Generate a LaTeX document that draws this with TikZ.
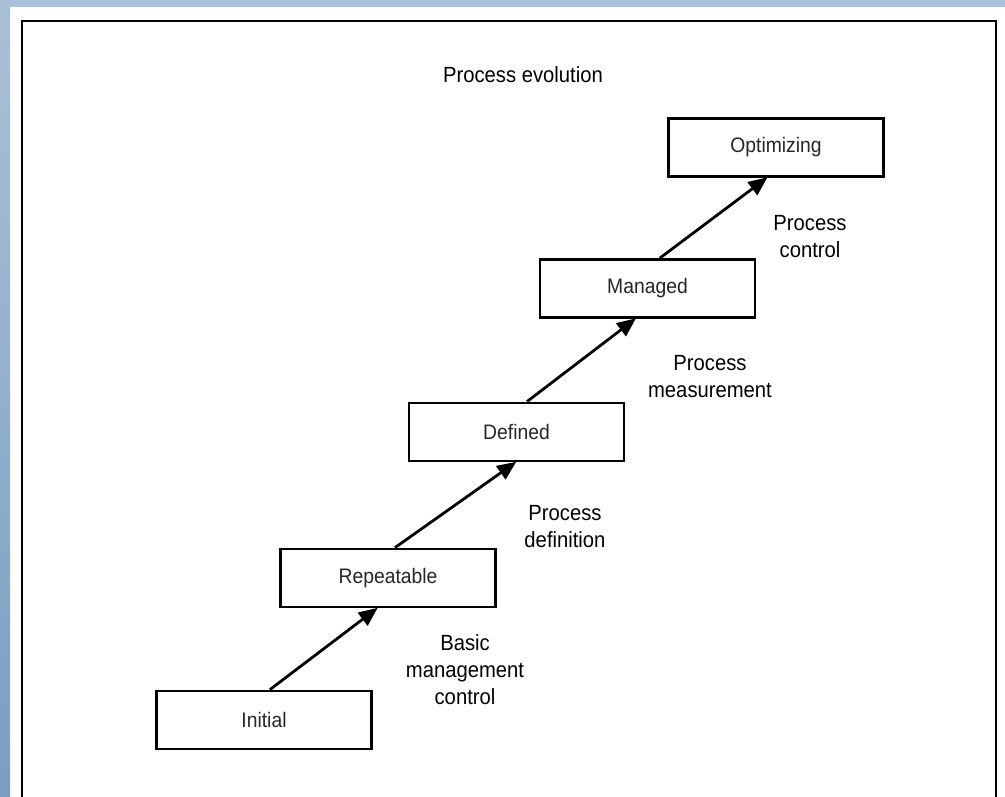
\documentclass[tikz,border=0pt]{standalone}
\usepackage{fontspec}
\setmainfont{Liberation Sans}[FakeStretch=0.92]
\usetikzlibrary{arrows.meta}

\definecolor{bandblue}{HTML}{A9C1D7}
\definecolor{banddark}{HTML}{7B9DC3}

\tikzset{
    level/.style={draw, line width=2.8pt, inner sep=0pt, minimum width=215pt,
        minimum height=58pt, font=\fontsize{21}{24}\selectfont, text=black!85},
    stagelabel/.style={align=center, font=\fontsize{22}{27}\selectfont},
    flow/.style={line width=2.8pt, -{Triangle[length=19pt, width=16pt]}, shorten >=-1pt}
}

\begin{document}
\begin{tikzpicture}[x=1pt, y=-1pt]
    \useasboundingbox (0,0) rectangle (1005,796);

    % Slide background
    \fill[white] (0,0) rectangle (1005,796);
    \fill[bandblue] (0,0) rectangle (1005,7);
    \shade[top color=bandblue, bottom color=banddark] (0,7) rectangle (10,796);

    % Frame
    \begin{scope}
        \clip (0,0) rectangle (1005,796);
        \draw[line width=2.6pt] (22,21) rectangle (996,820);
    \end{scope}

    \node[stagelabel] (evol) at (523, 75) {Process evolution};

    % Maturity levels
    \node[level] (init) at (264, 720)   {Initial};
    \node[level] (rep)  at (388, 578)   {Repeatable};
    \node[level] (def)  at (516.5, 432) {Defined};
    \node[level] (man)  at (647.5, 288.5) {Managed};
    \node[level] (opt)  at (776, 147.5) {Optimizing};

    % Steps
    \draw[flow] (init.79) -- (rep.250);
    \draw[flow] (rep.77)  -- (def.268);
    \draw[flow] (def.71)  -- (man.248);
    \draw[flow] (man.68)  -- (opt.253);

    \node[stagelabel] (basic) at (465, 670) {Basic\\management\\control};
    \node[stagelabel] (defn)  at (565, 527) {Process\\definition};
    \node[stagelabel] (meas)  at (710, 377) {Process\\measurement};
    \node[stagelabel] (ctrl)  at (810, 237) {Process\\control};
\end{tikzpicture}
\end{document}
